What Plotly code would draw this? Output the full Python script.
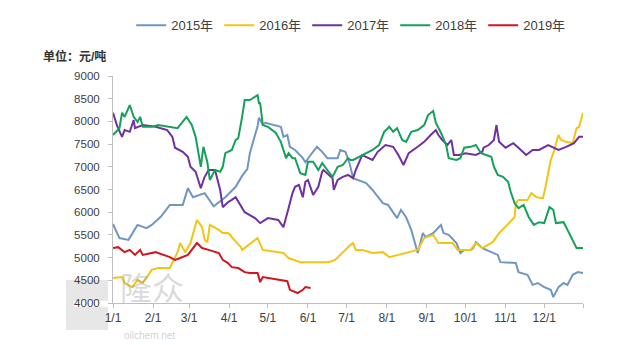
import plotly.graph_objects as go

# day-of-year (0 = 1/1) and price (元/吨)
d2015 = [0,5,12,15,19,26,30,37,44,54,58,62,71,78,87,95,100,104,106,109,112,113,116,118,130,132,135,137,141,147,149,153,158,162,166,174,176,180,183,186,190,196,201,206,209,213,217,220,223,227,231,236,240,242,248,254,256,260,266,269,272,277,279,281,286,293,298,300,312,314,321,325,329,334,339,341,345,349,352,356,360,364]
v2015 = [5740,5430,5390,5540,5720,5650,5720,5900,6160,6160,6530,6330,6420,6130,6330,6560,6800,6950,7300,7600,7900,8080,7930,7970,7880,7660,7700,7440,7370,7190,7100,7260,7440,7330,7190,7190,7370,7330,7100,6750,6710,6640,6490,6310,6200,6160,5980,5870,6050,5890,5610,5100,5540,5450,5540,5720,5540,5500,5320,5100,5170,5170,5210,5340,5210,5120,5060,4900,4880,4680,4620,4400,4440,4350,4290,4130,4350,4440,4400,4620,4680,4660]

d2016 = [0,7,9,15,19,23,30,35,44,50,52,56,60,65,69,71,73,75,82,85,89,91,92,99,100,105,112,116,126,132,136,145,159,167,172,178,184,186,188,193,201,209,214,221,229,236,241,248,252,263,267,277,281,286,294,299,303,307,311,312,314,321,324,328,333,335,339,341,345,347,351,356,359,361,363,364]
v2016 = [4550,4570,4440,4350,4510,4440,4730,4770,4770,5120,5320,5120,5320,5830,5670,5390,5340,5720,5610,5540,5540,5500,5450,5230,5170,5280,5430,5170,5120,5100,4990,4900,4900,4900,4950,5120,5280,5320,5170,5170,5100,5120,5010,5060,5120,5170,5430,5500,5320,5320,5170,5170,5320,5210,5340,5540,5650,5780,5890,6200,6270,6270,6420,6330,6310,6560,7150,7300,7700,7590,7550,7520,7850,7880,8100,8190]

d2017 = [0,3,7,9,13,16,17,23,33,42,46,48,54,58,60,64,66,68,71,74,79,83,85,89,92,95,102,110,114,120,128,132,136,139,141,144,147,149,151,155,159,162,163,166,170,171,174,178,182,186,188,193,201,205,211,217,221,225,229,236,241,246,250,252,255,259,262,264,268,273,281,286,287,291,295,297,299,304,310,314,320,325,330,337,341,345,351,357,361,364]
v2017 = [8190,7920,7660,7810,7770,8030,7850,7920,7880,7810,7660,7420,7330,7220,7000,6890,6710,6530,6780,6930,6930,6490,6110,6220,6270,6330,6000,5870,5760,5870,5830,5670,6090,6420,6560,6600,6330,6670,6710,6380,6560,6890,6930,6860,6750,6490,6710,6780,6820,6750,6930,7260,7150,7330,7480,7440,7260,7040,7300,7440,7550,7700,7810,7700,7590,7480,7590,7260,7260,7300,7260,7330,7420,7480,7590,7920,7550,7420,7520,7420,7260,7370,7370,7480,7420,7370,7440,7520,7660,7660]

d2018 = [0,5,7,9,13,16,19,21,23,30,35,50,57,61,64,66,68,70,73,75,79,83,85,87,92,95,97,100,102,106,112,113,114,116,120,126,130,134,136,139,141,145,149,151,155,159,162,166,170,174,178,182,184,186,193,201,206,210,214,217,220,224,227,231,236,241,244,248,250,254,258,260,266,269,272,277,281,285,289,293,295,298,302,306,308,311,314,318,322,326,330,334,338,341,343,349,352,356,359,361,364]
v2018 = [7700,7850,8190,8100,8360,8100,7990,8100,7880,7880,7920,7850,8100,7920,7660,7300,7000,7440,7110,6710,6930,6890,7000,7300,7370,7590,7630,8100,8470,8470,8580,8400,8400,7920,7880,7750,7550,7190,7300,7190,7190,6860,6820,7110,7110,6930,7080,6930,6780,7000,7040,7190,7150,7150,7260,7370,7480,7770,7880,7770,7850,7590,7550,7770,7810,7920,8140,8230,7970,7750,7480,7190,7150,7190,7420,7440,7480,7300,7260,7220,7000,6820,6780,6670,6450,6200,6090,6160,5890,5720,5780,5760,6110,6050,5760,5780,5610,5390,5210,5210,5210]

d2019 = [0,4,9,13,17,21,23,33,44,48,52,58,65,69,74,82,85,89,92,97,102,106,112,114,116,126,135,137,143,147,149,153]
v2019 = [5210,5230,5120,5170,5060,5170,5060,5120,5010,4950,4990,5060,5320,5210,5170,5100,4950,4880,4790,4770,4680,4660,4660,4460,4570,4530,4480,4290,4220,4290,4350,4330]

names = ["2015年", "2016年", "2017年", "2018年", "2019年"]
colors = ["#7196C3", "#F2C514", "#7030A0", "#16A05A", "#D0161E"]
xs = [d2015, d2016, d2017, d2018, d2019]
ys = [v2015, v2016, v2017, v2018, v2019]

month_ticks = [0, 31, 59, 90, 120, 151, 181, 212, 243, 273, 304, 334, 364]
month_labels = ["1/1", "2/1", "3/1", "4/1", "5/1", "6/1", "7/1", "8/1", "9/1", "10/1", "11/1", "12/1", ""]

FONT = "Liberation Sans, Noto Sans CJK SC, sans-serif"

fig = go.Figure()
for n, c, x, y in zip(names, colors, xs, ys):
    fig.add_trace(go.Scatter(x=x, y=y, mode="lines", name=n,
                             line=dict(color=c, width=2)))

fig.update_layout(
    width=640, height=345,
    margin=dict(l=113, r=57, t=76, b=42),
    paper_bgcolor="white", plot_bgcolor="white",
    font=dict(family=FONT, size=12, color="#404040"),
    showlegend=True,
    legend=dict(orientation="h", xref="container", yref="container",
                x=0.205, xanchor="left", y=0.927, yanchor="middle",
                font=dict(size=13, color="#404040"),
                entrywidth=43, entrywidthmode="pixels",
                tracegroupgap=0),
    xaxis=dict(range=[0, 364], tickmode="array", tickvals=month_ticks,
               ticktext=month_labels, showgrid=False, zeroline=False,
               showline=True, linecolor="#BFBFBF", linewidth=1,
               ticks="outside", ticklen=4, tickcolor="#BFBFBF",
               tickfont=dict(size=12, color="#404040")),
    yaxis=dict(range=[4000, 9000], tickmode="linear", tick0=4000, dtick=500,
               showgrid=False, zeroline=False, showline=True,
               linecolor="#BFBFBF", linewidth=1, ticks="outside",
               ticklen=4, tickcolor="#BFBFBF", ticklabelstandoff=6,
               tickfont=dict(size=11.5, color="#404040")),
)

fig.add_annotation(text="<b>单位：元/吨</b>", xref="paper", yref="paper",
                   x=-0.011, y=1.084, xanchor="right", yanchor="middle",
                   showarrow=False, font=dict(size=12, color="#333333"))

# watermark (logo-like)
def px(x):
    return (x - 113) / 470.0

def py(y):
    return (303 - y) / 227.0

fig.add_shape(type="rect", xref="paper", yref="paper", layer="below",
              x0=px(66), x1=px(108), y0=py(330), y1=py(280),
              fillcolor="rgba(170,170,170,0.28)", line=dict(width=0))
fig.add_shape(type="rect", xref="paper", yref="paper", layer="below",
              x0=px(74), x1=px(108), y0=py(307), y1=py(301),
              fillcolor="white", line=dict(width=0))
fig.add_annotation(text="隆众", xref="paper", yref="paper", x=px(118), y=py(289),
                   xanchor="left", yanchor="middle", showarrow=False,
                   font=dict(size=32, color="rgba(150,150,150,0.35)"))
fig.add_annotation(text="oilchem.net", xref="paper", yref="paper", x=px(122), y=py(335),
                   xanchor="left", yanchor="middle", showarrow=False,
                   font=dict(size=10, color="rgba(150,150,150,0.45)"))

fig.write_html("out.html")
